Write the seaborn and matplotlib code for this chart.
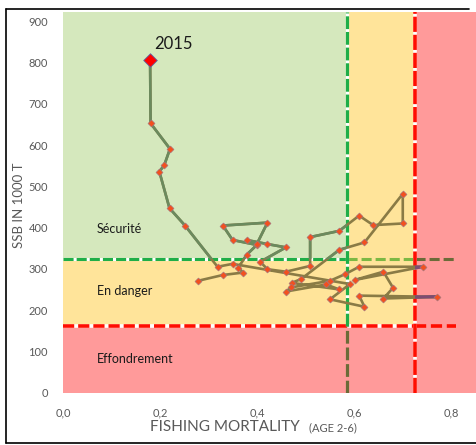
import matplotlib
matplotlib.use("Agg")
import matplotlib.pyplot as plt
from matplotlib.patches import Rectangle
from matplotlib.lines import Line2D
from matplotlib.ticker import FixedFormatter
import pandas as pd
import seaborn as sns

# Stock trajectory: fishing mortality (ages 2-6) vs spawning stock biomass
years = list(range(1963, 2016))
fishing_mortality = [
    0.278, 0.329, 0.371, 0.361, 0.378, 0.399, 0.349, 0.329, 0.421, 0.399,
    0.378, 0.421, 0.459, 0.406, 0.421, 0.459, 0.509, 0.509, 0.569, 0.610,
    0.639, 0.700, 0.700, 0.621, 0.569, 0.490, 0.471, 0.569, 0.542, 0.459,
    0.470, 0.550, 0.581, 0.610, 0.741, 0.601, 0.660, 0.680, 0.660, 0.770,
    0.610, 0.621, 0.550, 0.591, 0.349, 0.318, 0.251, 0.219, 0.198, 0.208,
    0.220, 0.180, 0.179,
]
ssb = [
    271, 285, 291, 303, 334, 358, 370, 405, 412, 360,
    370, 360, 352, 317, 299, 293, 307, 377, 392, 429,
    406, 410, 482, 364, 346, 275, 266, 250, 262, 245,
    255, 271, 287, 305, 305, 273, 293, 254, 228, 232,
    235, 208, 226, 263, 312, 305, 405, 447, 536, 551,
    591, 653, 807,
]

# Reference points
B_PA, B_LIM = 325, 162
F_PA, F_LIM = 0.585, 0.725

zone_names = ["Sécurité", "En danger", "Effondrement"]
zone_label_ssb = [396, 246, 81]
x_ticks = [0.0, 0.2, 0.4, 0.6, 0.8]
x_tick_labels = ["0,0", "0,2", "0,4", "0,6", "0,8"]
y_ticks = list(range(0, 1000, 100))

df = pd.DataFrame({"year": years, "F": fishing_mortality, "SSB": ssb})

sns.set_theme(style="white")
plt.rcParams["font.family"] = ["Lato", "DejaVu Sans"]

X_MAX, Y_MAX = 0.851, 923
GREEN_BG, YELLOW_BG, RED_BG = "#d5e8bd", "#ffe49a", "#ff9a9a"
GREY_TXT = "#595959"

W, H = 476, 445
fig = plt.figure(figsize=(W / 100, H / 100), dpi=100)
fig.patch.set_facecolor("white")
ax = fig.add_axes([63.3 / W, 1 - 392.5 / H, (W - 63.3) / W, (392.5 - 12) / H])
ax.set_xlim(0, X_MAX)
ax.set_ylim(0, Y_MAX)
for s in ax.spines.values():
    s.set_visible(False)

# Coloured zones
ax.add_patch(Rectangle((0, 0), X_MAX, Y_MAX, color=RED_BG, zorder=0, lw=0))
ax.add_patch(Rectangle((0, B_LIM), F_LIM, Y_MAX - B_LIM, color=YELLOW_BG, zorder=0, lw=0))
ax.add_patch(Rectangle((0, B_PA), F_PA, Y_MAX - B_PA, color=GREEN_BG, zorder=0, lw=0))


def dashed(xs, ys, color, lw, dashes, white=True):
    if white:
        ax.plot(xs, ys, color="white", lw=lw, solid_capstyle="butt", zorder=2)
    ax.plot(xs, ys, color=color, lw=lw, dashes=dashes, dash_capstyle="butt", zorder=2)


GREEN_L, LIME_L, OLIVE_L, RED_L = "#1fae48", "#7cb844", "#6b6b38", "#ff0d00"
# Horizontal thresholds
dashed([0, F_PA], [B_PA, B_PA], GREEN_L, 2.2, (3.3, 1.0))
dashed([F_PA, F_LIM], [B_PA, B_PA], LIME_L, 2.2, (3.3, 1.3), white=False)
dashed([F_LIM, 0.81], [B_PA, B_PA], OLIVE_L, 2.2, (3.3, 1.3), white=False)
dashed([0, F_LIM], [B_LIM, B_LIM], RED_L, 2.6, (3.1, 1.1))
dashed([F_LIM, 0.81], [B_LIM, B_LIM], RED_L, 2.6, (3.1, 1.3), white=False)
# Vertical thresholds
dashed([F_PA, F_PA], [B_LIM, Y_MAX], GREEN_L, 2.3, (4.0, 0.9))
dashed([F_PA, F_PA], [0, B_LIM], OLIVE_L, 2.3, (4.0, 1.2), white=False)
dashed([F_LIM, F_LIM], [0, Y_MAX], RED_L, 2.6, (4.2, 0.8))


def clip_rect(artist, x0, y0, x1, y1):
    r = Rectangle((x0, y0), x1 - x0, y1 - y0, transform=ax.transData,
                  facecolor="none", edgecolor="none")
    artist.set_clip_path(r)


# Trajectory, tinted by the zone it crosses
sns.lineplot(data=df, x="F", y="SSB", sort=False, estimator=None, ax=ax,
             color="#8a7b45", lw=1.9, zorder=4)
line = sns.lineplot(data=df, x="F", y="SSB", sort=False, estimator=None, ax=ax,
                    color="#6b8a5e", lw=1.9, zorder=4).lines[-1]
clip_rect(line, 0, B_PA, F_PA, Y_MAX)
line = sns.lineplot(data=df, x="F", y="SSB", sort=False, estimator=None, ax=ax,
                    color="#7e4c72", lw=1.9, zorder=4).lines[-1]
clip_rect(line, F_LIM, 0, X_MAX, Y_MAX)

sns.scatterplot(data=df.iloc[:-1], x="F", y="SSB", marker="D", s=13,
                color="#f2501f", edgecolor="#9a7a8a", linewidth=0.4, ax=ax, zorder=5)
sns.scatterplot(data=df.iloc[-1:], x="F", y="SSB", marker="D", s=48,
                color="#ff0000", edgecolor="#5a6aa8", linewidth=0.6, ax=ax, zorder=6)

last = df.iloc[-1]
ax.text(last["F"] + 0.009, last["SSB"] + 38, str(int(last["year"])),
        fontsize=12, color="#1a1a1a", ha="left", va="center", zorder=7)

for name, yv in zip(zone_names, zone_label_ssb):
    ax.text(0.069, yv, name, fontsize=9, color="#1a1a1a", ha="left", va="center", zorder=7)

ax.set_xticks(x_ticks)
ax.xaxis.set_major_formatter(FixedFormatter(x_tick_labels))
ax.set_yticks(y_ticks)
ax.yaxis.set_major_formatter(FixedFormatter([str(v) for v in y_ticks]))
ax.tick_params(axis="both", length=0, labelsize=8, labelcolor=GREY_TXT, pad=11)
ax.grid(False)
ax.set_xlabel("")
ax.set_ylabel("")

fig.text(19 / W, 1 - 205 / H, "SSB IN 1000 T", rotation=90, fontsize=9.5,
         color=GREY_TXT, ha="center", va="center")
fig.text(150 / W, 1 - 431 / H, "FISHING MORTALITY", fontsize=11,
         color=GREY_TXT, ha="left", va="baseline")
fig.text(309 / W, 1 - 431 / H, "(AGE 2-6)", fontsize=8,
         color=GREY_TXT, ha="left", va="baseline")

# Outer frame
for xs, ys in [([6, 469], [9, 9]), ([6, 6], [9, 443]), ([6, W], [443, 443])]:
    fig.add_artist(Line2D([x / W for x in xs], [1 - y / H for y in ys],
                          transform=fig.transFigure, color="black", lw=1.2, zorder=-1))

fig.savefig("out.png", dpi=100)
